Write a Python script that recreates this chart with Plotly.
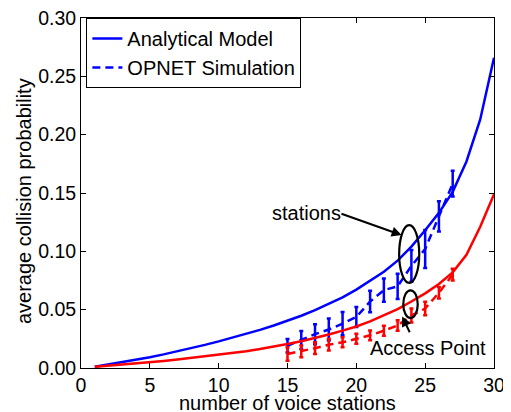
import plotly.graph_objects as go

# Analytical model (x = 1..30)
x_model = list(range(1, 31))
stations_model = [0.001, 0.003, 0.005, 0.0071, 0.0093, 0.0117, 0.0143, 0.017, 0.0198, 0.0228,
                  0.0259, 0.0292, 0.0327, 0.0364, 0.0404, 0.0448, 0.0496, 0.0548, 0.0606, 0.0672,
                  0.0745, 0.0825, 0.0920, 0.104, 0.118, 0.133, 0.151, 0.177, 0.213, 0.266]
ap_model = [0.001, 0.0019, 0.0029, 0.0039, 0.005, 0.0061, 0.0073, 0.0086, 0.0099, 0.0113,
            0.0128, 0.0144, 0.0162, 0.0182, 0.0205, 0.023, 0.0257, 0.0287, 0.032, 0.0356,
            0.040, 0.045, 0.0505, 0.057, 0.064, 0.072, 0.082, 0.097, 0.121, 0.149]

# OPNET simulation (x = 15..27) with confidence intervals
x_sim = list(range(15, 28))
stations_sim = [0.019, 0.024, 0.029, 0.033, 0.038, 0.0437, 0.057, 0.0667, 0.070, 0.0875, 0.102, 0.130, 0.158]
stations_err = [0.0058, 0.0078, 0.0086, 0.0094, 0.010, 0.0086, 0.0093, 0.010, 0.0108, 0.0136, 0.0163, 0.0129, 0.011]
ap_sim = [0.012, 0.0143, 0.017, 0.020, 0.022, 0.025, 0.028, 0.032, 0.0365, 0.045, 0.051, 0.0645, 0.080]
ap_err = [0.0058, 0.005, 0.005, 0.005, 0.0043, 0.0043, 0.0042, 0.0043, 0.0045, 0.006, 0.0058, 0.005, 0.005]

x_ticks = [0, 5, 10, 15, 20, 25, 30]
y_ticks = [0, 0.05, 0.10, 0.15, 0.20, 0.25, 0.30]

BLUE = "rgb(0,0,255)"
RED = "rgb(255,0,0)"
FONT = "Liberation Sans, Arial, Helvetica, sans-serif"
FS = 20

fig = go.Figure()
fig.add_trace(go.Scatter(x=x_model, y=stations_model, mode="lines", name="Analytical Model",
                         line=dict(color=BLUE, width=2.5)))
fig.add_trace(go.Scatter(x=x_sim, y=stations_sim, mode="lines", name="OPNET Simulation",
                         line=dict(color=BLUE, width=2.5, dash="8px,5px"),
                         error_y=dict(type="data", array=stations_err, color=BLUE, thickness=2.5, width=2)))
fig.add_trace(go.Scatter(x=x_model, y=ap_model, mode="lines", showlegend=False,
                         line=dict(color=RED, width=2.5)))
fig.add_trace(go.Scatter(x=x_sim, y=ap_sim, mode="lines", showlegend=False,
                         line=dict(color=RED, width=2.5, dash="8px,5px"),
                         error_y=dict(type="data", array=ap_err, color=RED, thickness=2.5, width=2)))

# ellipses
fig.add_shape(type="circle", xref="x", yref="y", x0=23.11, x1=24.57, y0=0.0729, y1=0.1225,
              line=dict(color="black", width=2.2))
fig.add_shape(type="circle", xref="x", yref="y", x0=23.41, x1=24.46, y0=0.0428, y1=0.0666,
              line=dict(color="black", width=2.2))

# arrows
fig.add_annotation(x=23.29, y=0.1139, ax=18.81, ay=0.1327, xref="x", yref="y", axref="x", ayref="y",
                   text="", showarrow=True, arrowhead=2, arrowsize=1, arrowwidth=2, arrowcolor="black")
fig.add_annotation(x=23.33, y=0.0442, ax=23.93, ay=0.0294, xref="x", yref="y", axref="x", ayref="y",
                   text="", showarrow=True, arrowhead=2, arrowsize=1, arrowwidth=2, arrowcolor="black")
# labels
fig.add_annotation(x=13.73, y=0.1331, xref="x", yref="y", text="stations", showarrow=False,
                   xanchor="left", yanchor="middle", font=dict(size=FS, color="black", family=FONT))
fig.add_annotation(x=20.86, y=0.0174, xref="x", yref="y", text="Access Point", showarrow=False,
                   xanchor="left", yanchor="middle", font=dict(size=FS, color="black", family=FONT))

# axis titles
fig.add_annotation(x=0.5, y=-0.099, xref="paper", yref="paper", text="number of voice stations",
                   showarrow=False, xanchor="center", yanchor="middle",
                   font=dict(size=FS, color="black", family=FONT))
fig.add_annotation(x=-0.138, y=0.477, xref="paper", yref="paper", text="average collision probability",
                   showarrow=False, xanchor="center", yanchor="middle", textangle=-90,
                   font=dict(size=FS, color="black", family=FONT))

axis_common = dict(showline=True, linecolor="black", linewidth=1, mirror="allticks",
                   ticks="inside", ticklen=5, tickcolor="black", showgrid=False, zeroline=False,
                   automargin=False, ticklabeloverflow="allow",
                   tickfont=dict(size=19.5, color="black", family=FONT))
fig.update_xaxes(range=[0, 30], tickvals=x_ticks, **axis_common)
fig.update_yaxes(range=[0, 0.30], tickvals=y_ticks, tickformat=".2f", **axis_common)

# page body has an 8px margin: shrink figure so plot area lands at the reference pixels
fig.update_layout(
    width=503, height=404,
    margin=dict(l=73, r=17, t=10, b=44),
    paper_bgcolor="white", plot_bgcolor="white",
    font=dict(family=FONT, size=FS, color="black"),
    legend=dict(x=0.013, y=1.0, xanchor="left", yanchor="top",
                bgcolor="white", bordercolor="black", borderwidth=1,
                font=dict(size=FS, color="black", family=FONT),
                tracegroupgap=0),
    showlegend=True,
)

fig.write_html("out.html")
